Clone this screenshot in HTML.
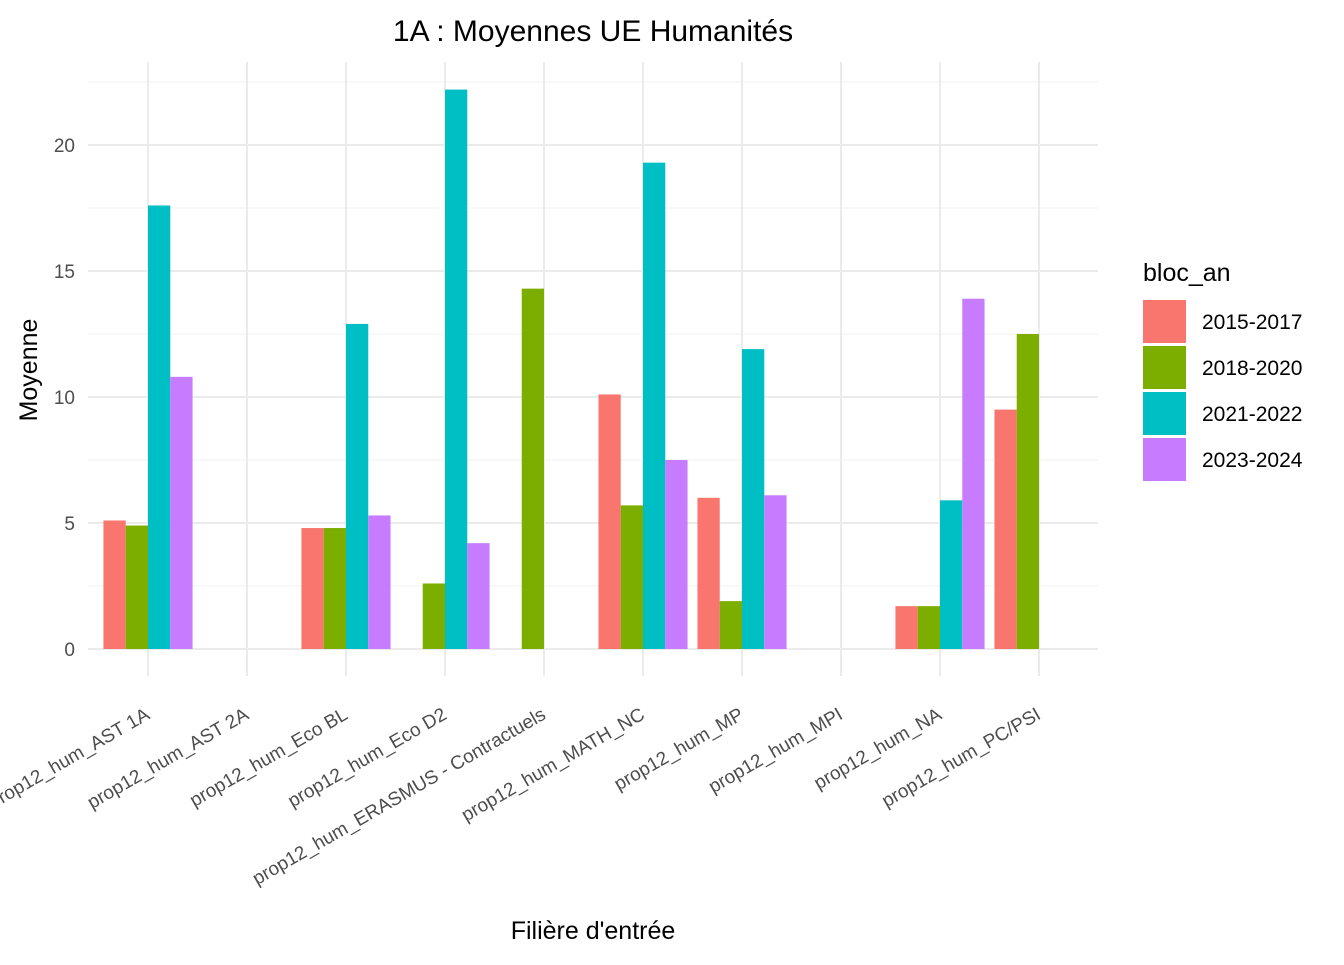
<!DOCTYPE html>
<html><head><meta charset="utf-8"><style>body{margin:0;background:#fff}svg{font-family:"Liberation Sans",Arial,sans-serif}</style></head>
<body>
<svg id="chart" width="1344" height="960" xmlns="http://www.w3.org/2000/svg"></svg>
<script>
const categories = ["prop12_hum_AST 1A","prop12_hum_AST 2A","prop12_hum_Eco BL","prop12_hum_Eco D2","prop12_hum_ERASMUS - Contractuels","prop12_hum_MATH_NC","prop12_hum_MP","prop12_hum_MPI","prop12_hum_NA","prop12_hum_PC/PSI"];
const seriesNames = ["2015-2017","2018-2020","2021-2022","2023-2024"];
const s2015 = [5.1,null,4.8,null,null,10.1,6.0,null,1.7,9.5];
const s2018 = [4.9,null,4.8,2.6,14.3,5.7,1.9,null,1.7,12.5];
const s2021 = [17.6,null,12.9,22.2,null,19.3,11.9,null,5.9,null];
const s2023 = [10.8,null,5.3,4.2,null,7.5,6.1,null,13.9,null];
const yTicks = [0,5,10,15,20];
const colors = ["#F8766D","#7CAE00","#00BFC4","#C77CFF"];
const series=[s2015,s2018,s2021,s2023];
const NS="http://www.w3.org/2000/svg", svg=document.getElementById('chart');
const L=88,R=1098,T=62,B=676;
const y=v=>649-v*25.2;
const step=99, x=i=>148+i*step, bw=step*0.9/4;
function el(t,a,p){const e=document.createElementNS(NS,t);for(const k in a)e.setAttribute(k,a[k]);(p||svg).appendChild(e);return e;}
// minor grid
for(let i=0;i<yTicks.length;i++){const e=el('line',{x1:L,x2:R,y1:y(yTicks[i]+2.5),y2:y(yTicks[i]+2.5),stroke:'#f2f2f2','stroke-width':1});

}
yTicks.forEach(t=>{const e=el('line',{x1:L,x2:R,y1:y(t),y2:y(t),stroke:'#ebebeb','stroke-width':2});


const tx=el('text',{x:75,y:y(t)+7,'text-anchor':'end','font-size':19,fill:'#4d4d4d'});tx.textContent=t;

});
categories.forEach((c,i)=>{const e=el('line',{x1:x(i),x2:x(i),y1:T,y2:B,stroke:'#ebebeb','stroke-width':2});


const tx=el('text',{x:x(i)+3,y:718,'text-anchor':'end','font-size':19,fill:'#4d4d4d',transform:`rotate(-30 ${x(i)+3} 718)`});tx.textContent=c;

});
series.forEach((s,j)=>s.forEach((v,i)=>{if(v==null)return;const x0=x(i)-2*bw+j*bw;
const r=el('rect',{x:x0,y:y(v),width:bw,height:y(0)-y(v),fill:colors[j]});

}));
function txt(s,a,n){const t=el('text',a);t.textContent=s;return t;}
txt('1A : Moyennes UE Humanités',{x:593,y:41,'text-anchor':'middle','font-size':30,fill:'#000'},'chart-title');
txt("Filière d'entrée",{x:593,y:939,'text-anchor':'middle','font-size':25,fill:'#000'},'x-axis-title');
txt('Moyenne',{x:37,y:370,'text-anchor':'middle','font-size':25,fill:'#000',transform:'rotate(-90 37 370)'},'y-axis-title');
txt('bloc_an',{x:1143,y:281,'font-size':25,fill:'#000'},'legend-title');
seriesNames.forEach((n,j)=>{const r=el('rect',{x:1143,y:300+j*46,width:43,height:43,fill:colors[j]});


txt(n,{x:1202,y:329+j*46,'font-size':21,fill:'#000'},'legend-entry');});
</script>
</body></html>
